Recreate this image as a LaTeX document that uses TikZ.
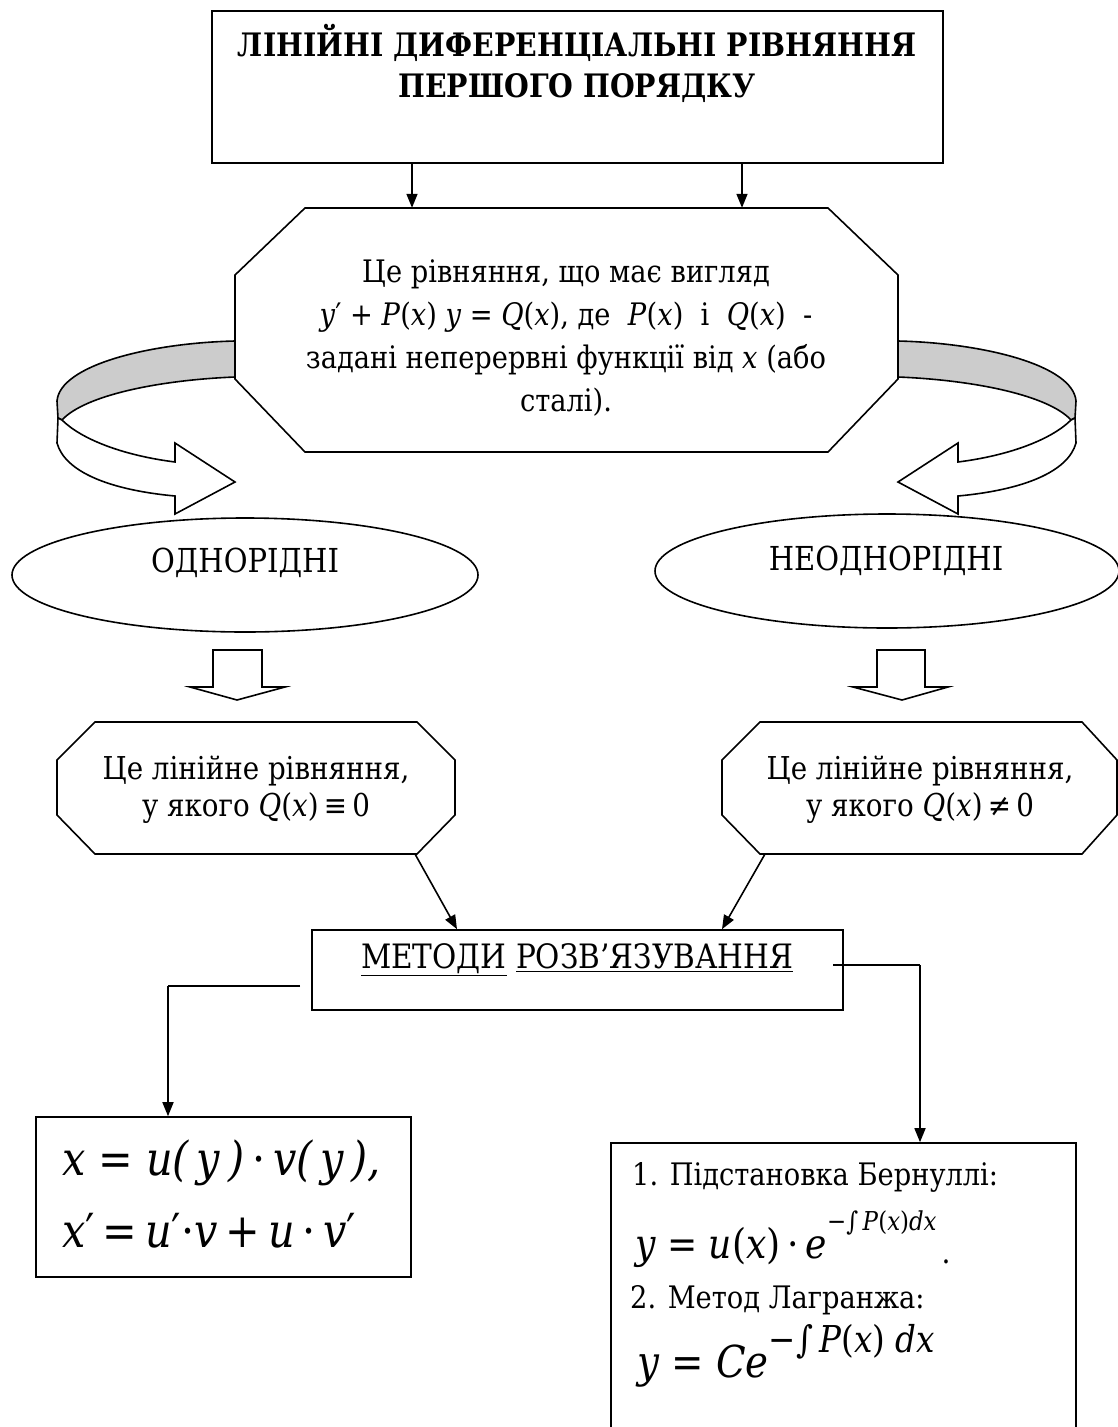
\documentclass[tikz,border=0pt]{standalone}
\usepackage{fontspec}
\setmainfont{DejaVu Serif}[FakeStretch=0.88]
\newcommand\I[1]{\textit{#1}}
\usetikzlibrary{arrows.meta,shapes.geometric}
\tikzset{
  outl/.style={draw, line width=1.6pt, line join=miter},
  box/.style={draw, line width=1.6pt, rectangle, inner sep=0pt},
  ghost/.style={rectangle, inner sep=0pt},
  conn/.style={line width=1.6pt, -{Triangle[length=14pt,width=11pt]}},
  plain/.style={line width=1.6pt},
  oval/.style={draw, ellipse, line width=1.6pt, inner sep=0pt},
  txt/.style={inner sep=0pt, align=center, font=\fontsize{31}{43}\selectfont},
  ttl/.style={inner sep=0pt, align=center, font=\fontsize{32.3}{41}\selectfont\bfseries},
  lbl/.style={inner sep=0pt, anchor=base west, font=\fontsize{31}{40}\selectfont},
  fml/.style={inner sep=0pt, anchor=base west},
  back/.style={outl, fill=black!20},
  front/.style={outl, fill=white},
}
\begin{document}
\begin{tikzpicture}[x=1pt,y=-1pt]
\useasboundingbox (0,0) rectangle (1118,1427);
\clip (0,0) rectangle (1118,1427);

% title box
\node[box, minimum width=731pt, minimum height=152pt] (top) at (577.5,87) {};
\node[ttl] (title) at (577,63) {ЛІНІЙНІ ДИФЕРЕНЦІАЛЬНІ РІВНЯННЯ\\ПЕРШОГО ПОРЯДКУ};

% big octagon
\node[ghost, minimum width=663pt, minimum height=244pt] (def) at (566.5,330) {};
\path[outl] (305,208) -- (828,208) -- (898,275) -- (898,379) -- (828,452)
  -- (305,452) -- (235,379) -- (235,275) -- cycle;
\node[txt] (deftext) at (566,338) {Це рівняння, що має вигляд\\
  \I{y}′\;+\;\I{P}(\I{x})\;\I{y}\;=\;\I{Q}(\I{x}),\ де\ \ \I{P}(\I{x})\ \ і\ \ \I{Q}(\I{x})\ \ -\\
  задані неперервні функції від \I{x} (або\\ сталі).};

\coordinate (a1) at (412,0);
\coordinate (a2) at (742,0);
\draw[conn] (top.south -| a1) -- (def.north -| a1);
\draw[conn] (top.south -| a2) -- (def.north -| a2);

% curved arrow, left
\path[back] (235,341) .. controls (150,343) and (60,365) .. (57,401)
   -- (58,418) -- (62,420) .. controls (85,395) and (160,380) .. (235,377) -- cycle;
\path[front] (62,420) .. controls (80,438) and (120,455) .. (175,462)
   -- (175,443) -- (235,482) -- (175,514) -- (175,496)
   .. controls (110,490) and (65,472) .. (57,443) -- (58,418) -- cycle;
% curved arrow, right
\path[back] (898,341) .. controls (983,343) and (1073,365) .. (1076,401)
   -- (1075,418) -- (1071,420) .. controls (1048,395) and (973,380) .. (898,377) -- cycle;
\path[front] (1071,420) .. controls (1053,438) and (1013,455) .. (958,462)
   -- (958,443) -- (898,482) -- (958,514) -- (958,496)
   .. controls (1023,490) and (1068,472) .. (1076,443) -- (1075,418) -- cycle;

% ellipses
\node[oval, minimum width=466pt, minimum height=114pt] (hom) at (245,575) {};
\node[txt, font=\fontsize{33}{40}\selectfont] (homt) at (245,563) {ОДНОРІДНІ};
\node[oval, minimum width=464pt, minimum height=114pt] (inh) at (887,571) {};
\node[txt, font=\fontsize{33}{40}\selectfont] (inht) at (886,561) {НЕОДНОРІДНІ};

% block arrows
\path[outl, fill=white] (213,650) -- (262,650) -- (262,687) -- (285,687) -- (237,700)
  -- (190,687) -- (213,687) -- cycle;
\path[outl, fill=white] (877,650) -- (925,650) -- (925,687) -- (948,687) -- (902,700)
  -- (853,687) -- (877,687) -- cycle;

% small octagons
\node[ghost, minimum width=398pt, minimum height=132pt] (o1) at (256,788) {};
\path[outl] (95,722) -- (417,722) -- (455,760) -- (455,815) -- (417,854)
  -- (95,854) -- (57,815) -- (57,760) -- cycle;
\node[txt, font=\fontsize{31.5}{37}\selectfont] (o1t) at (256,790) {Це лінійне рівняння,\\ у якого \I{Q}(\I{x})\,≡\,0};
\node[ghost, minimum width=395pt, minimum height=132pt] (o2) at (919.5,788) {};
\path[outl] (760,722) -- (1082,722) -- (1117,760) -- (1117,815) -- (1082,854)
  -- (760,854) -- (722,815) -- (722,760) -- cycle;
\node[txt, font=\fontsize{31.5}{37}\selectfont] (o2t) at (920,790) {Це лінійне рівняння,\\ у якого \I{Q}(\I{x})\,≠\,0};

% methods box
\node[box, minimum width=531pt, minimum height=80pt] (meth) at (577.5,970) {};
\node[txt, font=\fontsize{33.6}{40}\selectfont] (metht) at (577,960) {\underline{МЕТОДИ} \underline{РОЗВ’ЯЗУВАННЯ}};
\coordinate (c1) at (415,854);
\coordinate (c2) at (765,854);
\coordinate (d1) at (457,0);
\coordinate (d2) at (722,0);
\draw[conn] (c1) -- (meth.north -| d1);
\draw[conn] (c2) -- (meth.north -| d2);

% left formula box
\node[box, minimum width=375pt, minimum height=160pt] (lbox) at (223.5,1197) {};
\node[fml, font=\fontsize{47}{60}\selectfont] (lf1) at (62,1175)
  {\I{x}\;=\;\I{u}\I{(\,y\,)}\,·\,\I{v}\I{(\,y\,),}};
\node[fml, font=\fontsize{47}{60}\selectfont] (lf2) at (62,1247)
  {\I{x}′\,=\,\I{u}′·\I{v}\,+\,\I{u}\,·\,\I{v}′};

% right formula box
\node[box, minimum width=465pt, minimum height=300pt] (rbox) at (843.5,1293) {};
\node[lbl] (r1) at (632,1185) {1. Підстановка Бернуллі:};
\node[fml, font=\fontsize{41}{48}\selectfont] (rf1) at (635,1258)
  {\I{y}\;=\;\I{u}(\I{x})\,·\,\I{e}\raisebox{28pt}{\fontsize{26}{26}\selectfont −∫\,\I{P}(\I{x})\I{dx}}};
\node[inner sep=0pt, anchor=base, font=\fontsize{32}{40}\selectfont] (rdot) at (946,1263) {.};
\node[lbl] (r2) at (630,1308) {2. Метод Лагранжа:};
\node[fml, font=\fontsize{44}{54}\selectfont] (rf2) at (637,1377)
  {\I{y}\;=\;\I{Ce}\raisebox{25pt}{\fontsize{37}{38}\selectfont −∫\,\I{P}(\I{x})\;\I{dx}}};

% connectors from methods
\coordinate (m1) at (300,986);
\coordinate (m1c) at (168,986);
\coordinate (m2) at (833,965);
\coordinate (m2c) at (920,965);
\draw[plain] (m1) -- (m1c);
\draw[conn] (m1c) -- (lbox.north -| m1c);
\draw[plain] (m2) -- (m2c);
\draw[conn] (m2c) -- (rbox.north -| m2c);
\end{tikzpicture}
\end{document}
